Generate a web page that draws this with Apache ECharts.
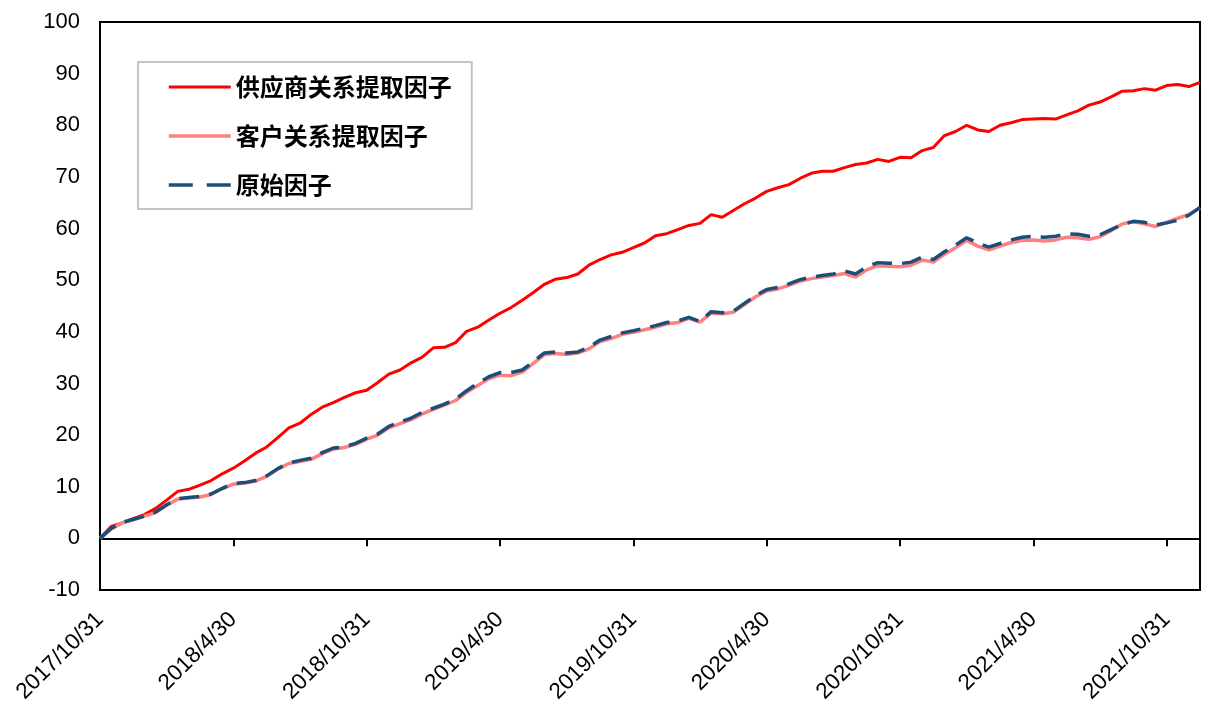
<!DOCTYPE html>
<html>
<head>
<meta charset="utf-8">
<script src="https://cdn.jsdelivr.net/npm/echarts@6/dist/echarts.min.js"></script>
<style>
html,body{margin:0;padding:0;background:#fff;}
#chart{width:1212px;height:723px;}
</style>
</head>
<body>
<div id="chart"></div>
<script>
const seriesNames = ['供应商关系提取因子', '客户关系提取因子', '原始因子'];

const dates = [
'2017/10/31','2017/11/15','2017/11/30','2017/12/15','2017/12/31',
'2018/1/15','2018/1/31','2018/2/15','2018/2/28','2018/3/15','2018/3/31','2018/4/15','2018/4/30',
'2018/5/15','2018/5/31','2018/6/15','2018/6/30','2018/7/15','2018/7/31','2018/8/15','2018/8/31','2018/9/15','2018/9/30','2018/10/15','2018/10/31',
'2018/11/15','2018/11/30','2018/12/15','2018/12/31','2019/1/15','2019/1/31','2019/2/15','2019/2/28','2019/3/15','2019/3/31','2019/4/15','2019/4/30',
'2019/5/15','2019/5/31','2019/6/15','2019/6/30','2019/7/15','2019/7/31','2019/8/15','2019/8/31','2019/9/15','2019/9/30','2019/10/15','2019/10/31',
'2019/11/15','2019/11/30','2019/12/15','2019/12/31','2020/1/15','2020/1/31','2020/2/15','2020/2/29','2020/3/15','2020/3/31','2020/4/15','2020/4/30',
'2020/5/15','2020/5/31','2020/6/15','2020/6/30','2020/7/15','2020/7/31','2020/8/15','2020/8/31','2020/9/15','2020/9/30','2020/10/15','2020/10/31',
'2020/11/15','2020/11/30','2020/12/15','2020/12/31','2021/1/15','2021/1/31','2021/2/15','2021/2/28','2021/3/15','2021/3/31','2021/4/15','2021/4/30',
'2021/5/15','2021/5/31','2021/6/15','2021/6/30','2021/7/15','2021/7/31','2021/8/15','2021/8/31','2021/9/15','2021/9/30','2021/10/15','2021/10/31',
'2021/11/15','2021/11/30','2021/12/15'
];

const supplierFactor = [
0,2.3,3.0,3.8,4.6,5.8,7.4,9.1,9.5,10.3,
11.2,12.5,13.6,15.0,16.5,17.7,19.5,21.4,22.3,24.0,
25.4,26.3,27.3,28.2,28.7,30.2,31.8,32.6,34.0,35.1,
36.9,37.0,37.9,40.1,40.9,42.3,43.6,44.7,46.1,47.6,
49.2,50.2,50.5,51.2,52.9,54.0,54.9,55.4,56.3,57.2,
58.6,59.0,59.8,60.6,61.0,62.7,62.2,63.5,64.8,65.9,
67.2,67.9,68.5,69.7,70.7,71.1,71.1,71.8,72.4,72.7,
73.4,73.0,73.8,73.7,75.1,75.7,78.0,78.8,80.0,79.1,
78.8,80.0,80.5,81.1,81.2,81.3,81.2,82.0,82.8,83.9,
84.5,85.5,86.6,86.7,87.1,86.8,87.7,87.9,87.5,88.3
];

const customerFactor = [
0,1.8,3.0,3.6,4.3,5.0,6.4,7.6,7.8,8.0,8.5,9.6,10.5,10.7,11.1,12.0,13.4,14.5,
14.9,15.3,16.4,17.3,17.6,18.2,19.2,20.0,21.4,22.2,23.0,24.1,25.0,25.8,26.7,28.3,29.6,30.9,
31.6,31.5,32.2,33.9,35.6,35.8,35.6,35.9,36.7,38.1,38.7,39.5,39.9,40.4,40.9,41.5,41.8,42.6,
41.9,43.6,43.5,43.8,45.3,46.8,47.9,48.3,49.0,49.8,50.3,50.6,50.9,51.3,50.6,52.0,52.8,52.7,
52.6,52.9,53.9,53.5,55.0,56.3,57.7,56.6,55.9,56.6,57.3,57.7,57.8,57.6,57.8,58.3,58.2,57.9,
58.4,59.6,60.9,61.3,60.9,60.4,61.2,62.0,62.7,64.0
];

const originalFactor = [
0,1.9,3.1,3.7,4.3,5.1,6.5,7.7,7.9,8.1,
8.6,9.7,10.6,10.8,11.2,12.1,13.5,14.6,15.1,15.5,
16.6,17.5,17.7,18.4,19.4,20.2,21.7,22.5,23.3,24.4,
25.2,26.0,27.0,28.6,30.0,31.3,32.1,32.1,32.6,34.2,
35.9,36.1,35.9,36.1,37.0,38.4,39.1,39.8,40.2,40.7,
41.2,41.8,42.1,42.8,42.0,43.9,43.7,44.0,45.5,47.0,
48.2,48.6,49.3,50.1,50.6,50.9,51.2,51.8,51.2,52.6,
53.4,53.3,53.2,53.5,54.5,54.0,55.5,56.8,58.2,57.2,
56.4,57.1,57.8,58.3,58.5,58.3,58.5,59.0,58.9,58.5,
58.8,59.8,60.8,61.4,61.2,60.7,61.1,61.6,62.6,64.1
];

const yMin = -10, yMax = 100, yStep = 10;

const chart = echarts.init(document.getElementById('chart'), null, {renderer: 'canvas'});
const numFont = 'Liberation Sans, Arial, sans-serif';

chart.setOption({
  animation: false,
  backgroundColor: '#ffffff',
  grid: {
    left: 100, right: 12, top: 22, bottom: 133,
    outerBoundsMode: 'none',
    containLabel: false,
    show: true, borderColor: '#000', borderWidth: 2, backgroundColor: 'transparent'
  },
  legend: {
    orient: 'vertical',
    left: 138, top: 62,
    padding: [13, 20, 12, 29],
    itemGap: 25,
    itemWidth: 62,
    itemHeight: 14,
    backgroundColor: '#fff',
    borderColor: '#c4c4c4',
    borderWidth: 2,
    itemStyle: { opacity: 0 },
    textStyle: {
      fontFamily: 'Noto Sans CJK SC',
      fontWeight: 'bold',
      fontSize: 24,
      color: '#000'
    },
    data: [
      { name: seriesNames[0], lineStyle: { width: 3 } },
      { name: seriesNames[1], lineStyle: { width: 3.5 } },
      { name: seriesNames[2], lineStyle: { width: 3.5, type: [24, 14] } }
    ]
  },
  xAxis: {
    type: 'category',
    data: dates,
    boundaryGap: false,
    axisLine: { onZero: true, lineStyle: { color: '#000', width: 2 } },
    axisTick: { show: true, interval: 11, length: 8, lineStyle: { color: '#000', width: 2 } },
    axisLabel: {
      interval: 11,
      rotate: 45,
      margin: 26,
      fontFamily: numFont,
      fontSize: 22.5,
      color: '#000'
    },
    splitLine: { show: false }
  },
  yAxis: {
    type: 'value',
    min: yMin, max: yMax, interval: yStep,
    axisLine: { show: false },
    axisTick: { show: false },
    splitLine: { show: false },
    axisLabel: {
      margin: 20,
      fontFamily: numFont,
      fontSize: 22,
      color: '#000'
    }
  },
  series: [
    {
      name: seriesNames[0], type: 'line', data: supplierFactor,
      symbol: 'none', showSymbol: false,
      lineStyle: { color: '#ff0000', width: 3 },
      itemStyle: { color: '#ff0000' }
    },
    {
      name: seriesNames[1], type: 'line', data: customerFactor,
      symbol: 'none', showSymbol: false,
      lineStyle: { color: '#ff8080', width: 3.5 },
      itemStyle: { color: '#ff8080' }
    },
    {
      name: seriesNames[2], type: 'line', data: originalFactor,
      symbol: 'none', showSymbol: false,
      lineStyle: { color: '#1b4f7a', width: 3.5, type: [20, 10] },
      itemStyle: { color: '#1b4f7a' }
    }
  ]
});
</script>
</body>
</html>
